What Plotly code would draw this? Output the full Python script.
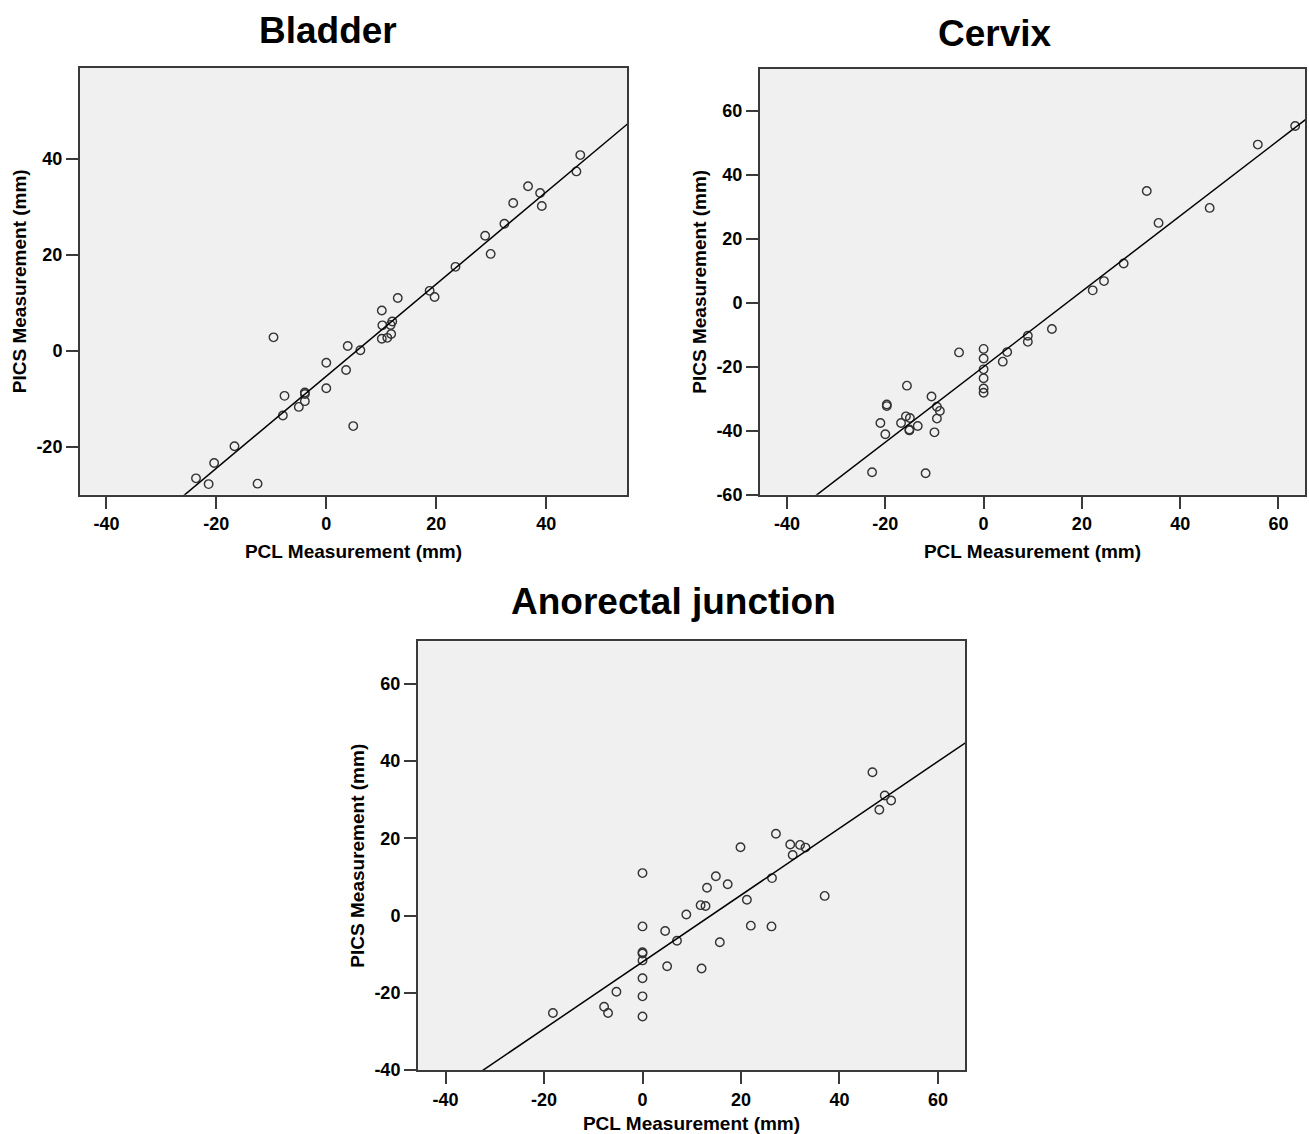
import plotly.graph_objects as go

W, H = 1309, 1134

# ---------------- data ----------------
bladder_pcl = [46.2, 45.5, 36.7, 38.9, 39.2, 34.0, 32.4, 28.9, 29.9, 23.5, 18.8, 19.7, 13.0,
               10.1, 10.2, 11.7, 12.0, 10.1, 11.1, 11.8, -9.6, 3.9, 6.2, 0.0, 3.6, 0.0,
               -7.6, -3.9, -3.9, -3.9, -5.0, -7.9, 4.9, -16.7, -20.4, -23.7, -21.4, -12.5]
bladder_pics = [40.8, 37.4, 34.3, 32.9, 30.2, 30.8, 26.5, 24.0, 20.2, 17.5, 12.5, 11.2, 11.0,
                8.4, 5.3, 5.4, 6.1, 2.5, 2.7, 3.5, 2.8, 1.0, 0.1, -2.5, -4.0, -7.8,
                -9.4, -8.7, -9.0, -10.5, -11.7, -13.5, -15.7, -19.9, -23.4, -26.6, -27.8, -27.7]
bladder_fit = (-5.3, 0.96)   # intercept, slope

cervix_pcl = [63.4, 55.8, 33.2, 35.6, 46.0, 28.5, 24.5, 22.2, 13.9, 9.0, 9.0, 4.8, 3.9, -5.0,
              0.0, 0.0, 0.0, 0.0, 0.0, 0.0, -15.6, -10.6, -19.7, -19.7, -9.5, -8.9, -9.5,
              -15.8, -15.0, -16.8, -21.0, -13.4, -15.1, -15.1, -10.0, -20.0, -22.7, -11.8]
cervix_pics = [55.3, 49.5, 35.0, 25.0, 29.7, 12.3, 6.8, 3.9, -8.2, -10.3, -12.2, -15.4, -18.4, -15.5,
               -14.4, -17.4, -20.8, -23.6, -26.8, -28.1, -25.9, -29.3, -31.8, -32.3, -32.5, -33.8, -36.2,
               -35.5, -36.0, -37.6, -37.6, -38.5, -39.6, -39.9, -40.5, -41.1, -53.0, -53.3]
cervix_fit = (-20.0, 1.18)

anorectal_pcl = [46.7, 49.2, 50.5, 48.1, 27.1, 30.0, 32.0, 33.1, 30.5, 19.9, 14.9, 26.3, 13.1,
                 17.3, 21.2, 11.8, 12.8, 37.0, 8.9, 0.0, 0.0, 22.0, 26.2, 4.6, 7.0, 15.7,
                 0.0, 0.0, 0.0, 5.0, 12.0, 0.0, -5.3, 0.0, -7.8, -7.0, -18.2, 0.0]
anorectal_pics = [37.1, 31.1, 29.8, 27.4, 21.2, 18.4, 18.3, 17.6, 15.7, 17.7, 10.2, 9.7, 7.2,
                  8.1, 4.1, 2.7, 2.5, 5.1, 0.3, 11.0, -2.8, -2.6, -2.8, -4.0, -6.5, -6.9,
                  -9.5, -9.8, -11.6, -13.1, -13.7, -16.2, -19.7, -20.9, -23.6, -25.2, -25.2, -26.1]
anorectal_fit = (-12.0, 0.865)

titles = ["Bladder", "Cervix", "Anorectal junction"]
x_title = "PCL Measurement (mm)"
y_title = "PICS Measurement (mm)"
x_ranges = [[-44.8, 54.7], [-45.5, 65.4], [-45.6, 65.5]]
y_ranges = [[-30.0, 59.0], [-60.0, 73.2], [-40.0, 71.0]]
x_ticks = [[-40, -20, 0, 20, 40], [-40, -20, 0, 20, 40, 60], [-40, -20, 0, 20, 40, 60]]
y_ticks = [[-20, 0, 20, 40], [-60, -40, -20, 0, 20, 40, 60], [-40, -20, 0, 20, 40, 60]]
x_ticktext = [["-40", "-20", "0", "20", "40"], ["-40", "-20", "0", "20", "40", "60"],
              ["-40", "-20", "0", "20", "40", "60"]]
y_ticktext = [["-20", "0", "20", "40"], ["-60", "-40", "-20", "0", "20", "40", "60"],
              ["-40", "-20", "0", "20", "40", "60"]]

# ---------------- layout helpers ----------------
# pixel boxes of plot areas: (left, top, right, bottom)
boxes = [(80, 67, 627, 495), (760, 68, 1305, 495), (418, 642, 965, 1072)]
title_pos = [(328, 30), (995, 33), (673, 602)]

def ypx(y):
    # small vertical correction measured from the rendering
    return y * 1.008 + 1

def xdom(b):
    return [b[0] / W, b[2] / W]

def ydom(b):
    return [1 - ypx(b[3]) / H, 1 - ypx(b[1]) / H]

FONT = "Liberation Sans, Arial, sans-serif"
AX = "#3a3a3a"

fig = go.Figure()

series = [(bladder_pcl, bladder_pics, bladder_fit),
          (cervix_pcl, cervix_pics, cervix_fit),
          (anorectal_pcl, anorectal_pics, anorectal_fit)]

layout = dict(
    width=W, height=H,
    margin=dict(l=0, r=0, t=0, b=0),
    paper_bgcolor="white",
    showlegend=False,
    font=dict(family=FONT, color="black"),
)

annotations = []
for i, (xs, ys, (b0, b1)) in enumerate(series):
    n = "" if i == 0 else str(i + 1)
    xa, ya = "x" + n, "y" + n
    fig.add_trace(go.Scatter(
        x=xs, y=ys, mode="markers", xaxis=xa, yaxis=ya,
        marker=dict(symbol="circle-open", size=8.5, color="#333333", line=dict(width=1.4)),
        hoverinfo="x+y"))
    lx = [x_ranges[i][0] - 5, x_ranges[i][1] + 5]
    ly = [b0 + b1 * v for v in lx]
    fig.add_trace(go.Scatter(
        x=lx, y=ly, mode="lines", xaxis=xa, yaxis=ya,
        line=dict(color="black", width=1.5), hoverinfo="skip"))

    box = boxes[i]
    layout["xaxis" + n] = dict(
        domain=xdom(box), range=x_ranges[i], anchor=ya,
        tickvals=x_ticks[i], ticktext=x_ticktext[i],
        ticks="outside", ticklen=12, tickwidth=2, tickcolor=AX,
        showline=True, linecolor=AX, linewidth=2, mirror=True,
        showgrid=False, zeroline=False,
        tickfont=dict(family=FONT, size=18, weight="bold", color="black"),
        title=dict(text=x_title, standoff=11,
                   font=dict(family=FONT, size=19, weight="bold", color="black")),
    )
    layout["yaxis" + n] = dict(
        domain=ydom(box), range=y_ranges[i], anchor=xa,
        tickvals=y_ticks[i], ticktext=y_ticktext[i],
        ticks="outside", ticklen=12, tickwidth=2, tickcolor=AX,
        showline=True, linecolor=AX, linewidth=2, mirror=True,
        showgrid=False, zeroline=False,
        tickfont=dict(family=FONT, size=18, weight="bold", color="black"),
        title=dict(text=y_title, standoff=5,
                   font=dict(family=FONT, size=19, weight="bold", color="black")),
    )
    tx, ty = title_pos[i]
    annotations.append(dict(
        text=titles[i], x=tx / W, y=1 - ypx(ty) / H, xref="paper", yref="paper",
        xanchor="center", yanchor="middle", showarrow=False,
        font=dict(family=FONT, size=37, weight="bold", color="black")))

layout["annotations"] = annotations
layout["plot_bgcolor"] = "#f0f0f0"
fig.update_layout(**layout)

fig.write_html("out.html")
